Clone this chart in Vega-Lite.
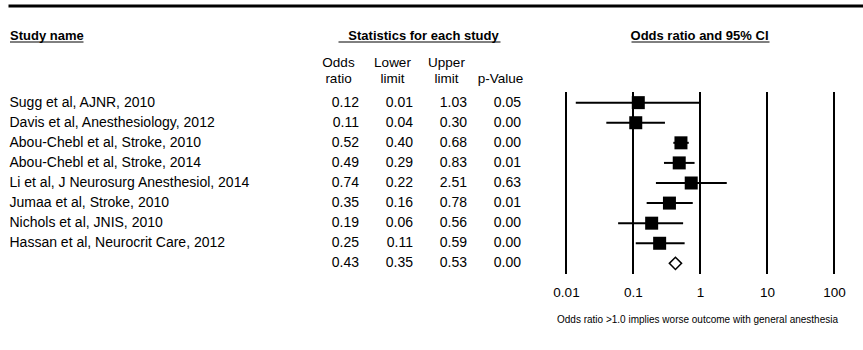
{
  "$schema": "https://vega.github.io/schema/vega-lite/v6.json",
  "width": 863,
  "height": 182,
  "autosize": {"type": "none"},
  "padding": {"left": 0, "top": 92, "right": 0, "bottom": 76},
  "background": "white",
  "config": {
    "font": "Liberation Sans",
    "view": {"stroke": null},
    "axis": {"labelColor": "black", "titleColor": "black", "labelFont": "Liberation Sans", "titleFont": "Liberation Sans"}
  },
  "data": {
    "values": [
      {"study": "Sugg et al, AJNR, 2010", "type": "study", "or": 0.12, "lower": 0.014, "upper": 1.03, "p": 0.05},
      {"study": "Davis et al, Anesthesiology, 2012", "type": "study", "or": 0.11, "lower": 0.04, "upper": 0.30, "p": 0.00},
      {"study": "Abou-Chebl et al, Stroke, 2010", "type": "study", "or": 0.52, "lower": 0.40, "upper": 0.68, "p": 0.00},
      {"study": "Abou-Chebl et al, Stroke, 2014", "type": "study", "or": 0.49, "lower": 0.29, "upper": 0.83, "p": 0.01},
      {"study": "Li et al, J Neurosurg Anesthesiol, 2014", "type": "study", "or": 0.74, "lower": 0.22, "upper": 2.51, "p": 0.63},
      {"study": "Jumaa et al, Stroke, 2010", "type": "study", "or": 0.35, "lower": 0.16, "upper": 0.78, "p": 0.01},
      {"study": "Nichols et al, JNIS,  2010", "type": "study", "or": 0.19, "lower": 0.06, "upper": 0.56, "p": 0.00},
      {"study": "Hassan et al, Neurocrit Care, 2012", "type": "study", "or": 0.25, "lower": 0.11, "upper": 0.59, "p": 0.00},
      {"study": "Overall", "type": "summary", "or": 0.43, "lower": 0.35, "upper": 0.53, "p": 0.00}
    ]
  },
  "layer": [
    {
      "transform": [{"filter": "datum.type == 'study'"}],
      "mark": {"type": "text", "align": "left", "baseline": "middle", "fontSize": 14, "color": "black"},
      "encoding": {
        "x": {
          "datum": "Study name", "type": "nominal",
          "scale": {"type": "point", "domain": ["Study name"], "range": [9.5, 83], "padding": 0, "align": 0},
          "axis": {"orient": "top", "offset": 50.5, "ticks": false, "tickSize": 0, "domain": true, "domainColor": "black", "domainWidth": 1,
                   "labelFontSize": 13, "labelFontWeight": "bold", "labelAlign": "left", "labelBaseline": "alphabetic", "labelPadding": 2.5, "labelAngle": 0, "title": null}
        },
        "y": {"field": "study", "type": "nominal", "scale": {"type": "point", "padding": 0.53, "domain": ["Sugg et al, AJNR, 2010", "Davis et al, Anesthesiology, 2012", "Abou-Chebl et al, Stroke, 2010", "Abou-Chebl et al, Stroke, 2014", "Li et al, J Neurosurg Anesthesiol, 2014", "Jumaa et al, Stroke, 2010", "Nichols et al, JNIS,  2010", "Hassan et al, Neurocrit Care, 2012", "Overall"]}, "axis": null},
        "text": {"field": "study", "type": "nominal"}
      }
    },
    {
      "transform": [{"fold": ["or", "lower", "upper", "p"], "as": ["stat", "val"]}],
      "mark": {"type": "text", "align": "right", "baseline": "middle", "dx": 21, "fontSize": 14, "color": "black"},
      "encoding": {
        "x": {
          "field": "stat", "type": "nominal",
          "scale": {"type": "point", "domain": ["or", "lower", "upper", "p"], "range": [338, 500], "padding": 0},
          "axis": {"orient": "top", "offset": 50.5, "ticks": false, "tickSize": 0, "domain": true, "domainColor": "black", "domainWidth": 1,
                   "labelFontSize": 13.5, "labelPadding": -24.5, "labelBaseline": "alphabetic", "labelLineHeight": 16, "labelAngle": 0,
                   "labelOverlap": false, "labelBound": false,
                   "labelExpr": "datum.value == 'or' ? ['Odds', 'ratio'] : datum.value == 'lower' ? ['Lower', 'limit'] : datum.value == 'upper' ? ['Upper', 'limit'] : ['', 'p-Value']",
                   "title": "Statistics for each study", "titleFontSize": 13, "titleFontWeight": "bold", "titleX": 423, "titleY": -2.5, "titleBaseline": "alphabetic", "titleAlign": "center", "titleAngle": 0}
        },
        "y": {"field": "study", "type": "nominal", "scale": {"type": "point", "padding": 0.53, "domain": ["Sugg et al, AJNR, 2010", "Davis et al, Anesthesiology, 2012", "Abou-Chebl et al, Stroke, 2010", "Abou-Chebl et al, Stroke, 2014", "Li et al, J Neurosurg Anesthesiol, 2014", "Jumaa et al, Stroke, 2010", "Nichols et al, JNIS,  2010", "Hassan et al, Neurocrit Care, 2012", "Overall"]}, "axis": null},
        "text": {"field": "val", "type": "quantitative", "format": ".2f"}
      }
    },
    {
      "data": {"values": [{"tick": "0.01"}, {"tick": "0.1"}, {"tick": "1"}, {"tick": "10"}, {"tick": "100"}]},
      "mark": {"type": "rule", "strokeWidth": 2, "color": "black"},
      "encoding": {
        "x": {
          "field": "tick", "type": "nominal",
          "scale": {"type": "point", "domain": ["0.01", "0.1", "1", "10", "100"], "range": [566, 834], "padding": 0},
          "axis": {"orient": "bottom", "ticks": false, "tickSize": 0, "domain": false, "grid": false,
                   "labelFontSize": 13.5, "labelPadding": 22, "labelBaseline": "alphabetic", "labelAngle": 0,
                   "title": "Odds ratio >1.0 implies worse outcome with general anesthesia", "titleFontSize": 10, "titleFontWeight": "normal",
                   "titleX": 697, "titleY": 48, "titleBaseline": "alphabetic", "titleAlign": "center"}
        }
      }
    },
    {
      "layer": [
        {
          "transform": [{"filter": "datum.type == 'study'"}],
          "mark": {"type": "rule", "strokeWidth": 2, "color": "black"},
          "encoding": {
            "x": {"field": "lower", "type": "quantitative",
                  "scale": {"type": "log", "domain": [4.7e-11, 271], "range": [8, 863], "nice": false},
                  "axis": {"orient": "top", "offset": 86.5, "ticks": false, "labels": false, "grid": false, "domainColor": "black", "domainWidth": 3, "title": null}},
            "x2": {"field": "upper"},
            "y": {"field": "study", "type": "nominal", "scale": {"type": "point", "padding": 0.53, "domain": ["Sugg et al, AJNR, 2010", "Davis et al, Anesthesiology, 2012", "Abou-Chebl et al, Stroke, 2010", "Abou-Chebl et al, Stroke, 2014", "Li et al, J Neurosurg Anesthesiol, 2014", "Jumaa et al, Stroke, 2010", "Nichols et al, JNIS,  2010", "Hassan et al, Neurocrit Care, 2012", "Overall"]}, "axis": null}
          }
        },
        {
          "transform": [{"filter": "datum.type == 'study'"}],
          "mark": {"type": "point", "shape": "square", "filled": true, "color": "black", "opacity": 1, "size": 169},
          "encoding": {
            "x": {"field": "or", "type": "quantitative",
                  "scale": {"type": "log", "domain": [4.7e-11, 271], "range": [8, 863], "nice": false},
                  "axis": {"orient": "top", "offset": 86.5, "ticks": false, "labels": false, "grid": false, "domainColor": "black", "domainWidth": 3, "title": null}},
            "y": {"field": "study", "type": "nominal", "scale": {"type": "point", "padding": 0.53, "domain": ["Sugg et al, AJNR, 2010", "Davis et al, Anesthesiology, 2012", "Abou-Chebl et al, Stroke, 2010", "Abou-Chebl et al, Stroke, 2014", "Li et al, J Neurosurg Anesthesiol, 2014", "Jumaa et al, Stroke, 2010", "Nichols et al, JNIS,  2010", "Hassan et al, Neurocrit Care, 2012", "Overall"]}, "axis": null}
          }
        }
      ]
    },
    {
      "transform": [{"filter": "datum.type == 'summary'"}],
      "mark": {"type": "point", "shape": "diamond", "filled": true, "fill": "white", "stroke": "black", "strokeWidth": 1.5, "opacity": 1, "size": 150},
      "encoding": {
        "x": {"field": "or", "type": "quantitative",
              "scale": {"type": "log", "domain": [0.09336, 10.711], "range": [631, 769], "nice": false},
              "axis": {"orient": "top", "offset": 50.5, "ticks": false, "tickSize": 0, "labels": false, "grid": false, "domain": true, "domainColor": "black", "domainWidth": 1,
                       "title": "Odds ratio and 95% CI", "titleFontSize": 13, "titleFontWeight": "bold", "titleX": 699, "titleY": -2.5,
                       "titleBaseline": "alphabetic", "titleAlign": "center", "titleAngle": 0}},
        "y": {"field": "study", "type": "nominal", "scale": {"type": "point", "padding": 0.53, "domain": ["Sugg et al, AJNR, 2010", "Davis et al, Anesthesiology, 2012", "Abou-Chebl et al, Stroke, 2010", "Abou-Chebl et al, Stroke, 2014", "Li et al, J Neurosurg Anesthesiol, 2014", "Jumaa et al, Stroke, 2010", "Nichols et al, JNIS,  2010", "Hassan et al, Neurocrit Care, 2012", "Overall"]}, "axis": null}
      }
    }
  ],
  "resolve": {"scale": {"x": "independent"}}
}
